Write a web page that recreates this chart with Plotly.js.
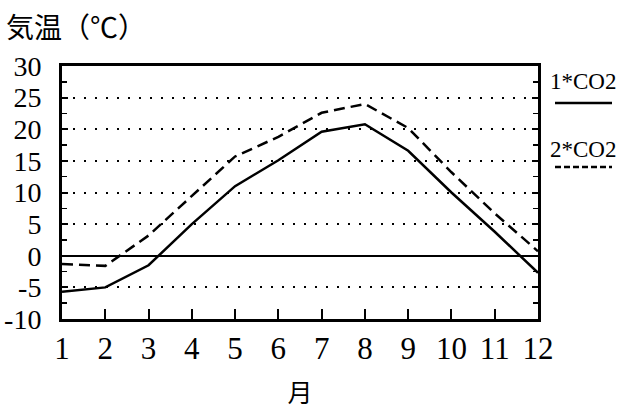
<!DOCTYPE html>
<html>
<head>
<meta charset="utf-8">
<script src="https://cdn.plot.ly/plotly-3.0.1.min.js"></script>
<style>
html,body{margin:0;padding:0;background:#fff;}
#chart{width:617px;height:409px;}
</style>
</head>
<body>
<div id="chart"></div>
<script>
const months = [1, 2, 3, 4, 5, 6, 7, 8, 9, 10, 11, 12];
const temp1xCO2 = [-5.7, -5.0, -1.5, 5.0, 11.0, 15.1, 19.6, 20.8, 16.6, 10.0, 3.8, -2.7];
const temp2xCO2 = [-1.3, -1.6, 3.2, 9.5, 15.7, 18.8, 22.6, 24.0, 20.2, 13.2, 6.7, 0.7];
const seriesNames = ['1*CO2', '2*CO2'];
const yTicks = [-10, -5, 0, 5, 10, 15, 20, 25, 30];

const serif = 'Liberation Serif, DejaVu Serif, serif';
const cjk = 'Noto Sans CJK JP, Noto Sans CJK SC, sans-serif';

const traces = [
  {x: months, y: temp1xCO2, name: seriesNames[0], mode: 'lines', type: 'scatter',
   line: {color: '#000', width: 2.5}},
  {x: months, y: temp2xCO2, name: seriesNames[1], mode: 'lines', type: 'scatter',
   line: {color: '#000', width: 2.5, dash: '11px,6px'}}
];

const L = 62, T = 66, W = 476, H = 253;
function px(x){ return (x - L) / W; }
function py(y){ return (T + H - y) / H; }

const layout = {
  width: 617, height: 409,
  margin: {l: L, r: 617 - L - W, t: T, b: 409 - T - H},
  paper_bgcolor: '#fff', plot_bgcolor: '#fff',
  showlegend: false,
  title: {text: '気温（℃）', font: {family: cjk, size: 28, color: '#000'},
          x: 6/617, xanchor: 'left', xref: 'container',
          y: 1 - 28/409, yanchor: 'middle', yref: 'container'},
  xaxis: {
    range: [1, 12], tickvals: months, ticktext: months.map(String),
    ticks: 'inside', ticklen: 10, tickwidth: 2, tickcolor: '#000',
    showline: true, linewidth: 3, linecolor: '#000', mirror: true,
    showgrid: false, zeroline: false,
    tickfont: {family: serif, size: 31, color: '#000'},
    ticklabelstandoff: 0,
    title: {text: '月', font: {family: cjk, size: 25, color: '#000'}, standoff: 28}
  },
  yaxis: {
    range: [-10, 30], tickvals: yTicks, ticktext: yTicks.map(v => v < 0 ? '-' + Math.abs(v) : String(v)),
    ticks: 'inside', ticklen: 6, tickwidth: 2, tickcolor: '#000',
    minor: {dtick: 2.5, tick0: 0, ticks: 'inside', ticklen: 5, tickwidth: 1.5, tickcolor: '#000', showgrid: false},
    showline: true, linewidth: 3, linecolor: '#000', mirror: 'ticks',
    showgrid: true, gridcolor: '#000', gridwidth: 2, griddash: '2px,9px',
    zeroline: true, zerolinecolor: '#000', zerolinewidth: 2,
    tickfont: {family: serif, size: 28, color: '#000'},
    ticklabelstandoff: 12
  },
  annotations: [
    {text: seriesNames[0], xref: 'paper', yref: 'paper', x: px(583), y: py(81),
     xanchor: 'center', yanchor: 'middle', showarrow: false,
     font: {family: serif, size: 23, color: '#000'}},
    {text: seriesNames[1], xref: 'paper', yref: 'paper', x: px(583), y: py(149),
     xanchor: 'center', yanchor: 'middle', showarrow: false,
     font: {family: serif, size: 23, color: '#000'}}
  ],
  shapes: [
    {type: 'line', xref: 'paper', yref: 'paper', x0: px(555), x1: px(612), y0: py(103), y1: py(103),
     line: {color: '#000', width: 2.5}},
    {type: 'line', xref: 'paper', yref: 'paper', x0: px(555), x1: px(612), y0: py(167), y1: py(167),
     line: {color: '#000', width: 2.5, dash: '6px,3px'}}
  ]
};

Plotly.newPlot('chart', traces, layout, {staticPlot: true, displayModeBar: false});
</script>
</body>
</html>
